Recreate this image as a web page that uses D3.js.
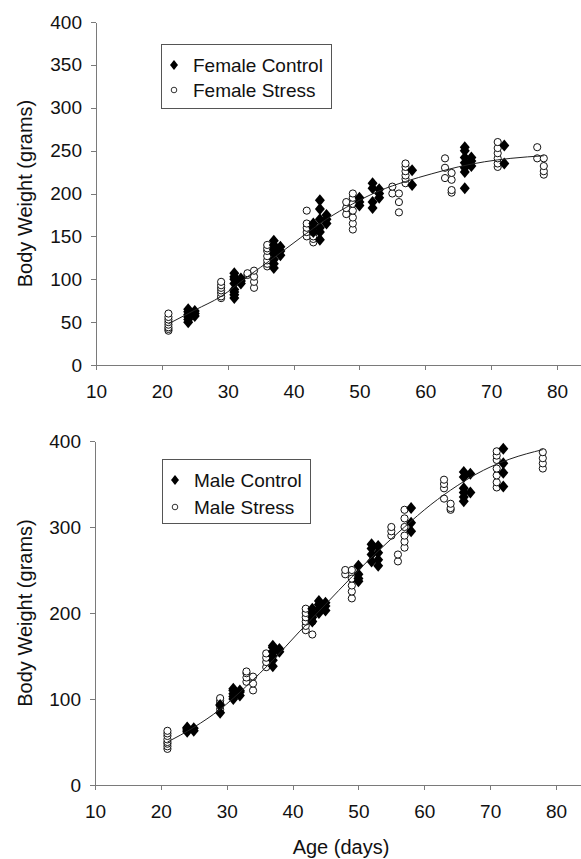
<!DOCTYPE html>
<html>
<head>
<meta charset="utf-8">
<script src="https://cdn.jsdelivr.net/npm/d3@7"></script>
<style>
    body { margin: 0; background: #fff; }
    svg { display: block; font-family: "Liberation Sans", Arial, sans-serif; }
    .axis path, .axis line { stroke: #7a7a7a; stroke-width: 1; shape-rendering: crispEdges; }
    .axis text { font-size: 19px; fill: #111; }
    .axis_label { font-size: 20px; fill: #111; }
    .legend_text { font-size: 19px; fill: #111; }
</style>
</head>
<body>
<div id="chart"></div>
<script>
// ---------------------------------------------------------------------------- //
//                                     Data                                     //
// ---------------------------------------------------------------------------- //
// [age (days), body weight (grams)]
var femaleControl = [
    [24,50],[24,53],[24,56],[24,59],[24,62],[24,65],[25,57],[25,60],[25,63],
    [31,78],[31,82],[31,85],[31,88],[31,95],[31,100],[31,103],[31,107],[32,95],[32,98],[32,101],
    [37,113],[37,118],[37,123],[37,130],[37,135],[37,140],[37,145],[38,128],[38,133],[38,138],
    [43,155],[43,160],[43,165],[44,146],[44,155],[44,160],[44,170],[44,182],[44,192],[45,165],[45,170],[45,175],
    [50,186],[50,190],[50,195],
    [52,183],[52,190],[52,206],[52,212],[53,195],[53,200],[53,205],
    [58,210],[58,227],
    [66,206],[66,225],[66,230],[66,236],[66,242],[66,250],[66,254],[67,232],[67,238],[67,242],
    [72,235],[72,256]
];
var femaleStress = [
    [21,40],[21,42],[21,44],[21,47],[21,50],[21,53],[21,56],[21,60],
    [29,78],[29,80],[29,84],[29,87],[29,90],[29,93],[29,97],
    [33,105],[33,107],[34,90],[34,97],[34,103],[34,110],
    [36,115],[36,118],[36,122],[36,127],[36,133],[36,136],[36,140],
    [42,150],[42,155],[42,160],[42,165],[42,180],[43,143],[43,147],[43,150],[43,155],
    [48,176],[48,183],[48,190],[49,158],[49,165],[49,172],[49,180],[49,188],[49,195],[49,200],
    [55,200],[55,208],[56,178],[56,190],[56,200],
    [57,212],[57,217],[57,221],[57,226],[57,231],[57,235],
    [63,218],[63,230],[63,241],[64,201],[64,204],[64,216],[64,224],
    [71,231],[71,235],[71,241],[71,247],[71,253],[71,260],
    [77,241],[77,254],[78,222],[78,226],[78,232],[78,241]
];
var maleControl = [
    [24,62],[24,64],[24,66],[24,67],[25,63],[25,66],
    [29,84],[29,93],
    [31,100],[31,103],[31,106],[31,110],[31,112],[32,104],[32,108],[32,110],
    [37,138],[37,145],[37,150],[37,155],[37,160],[37,162],[38,155],[38,158],
    [43,190],[43,195],[43,200],[43,205],[44,200],[44,205],[44,210],[44,214],[45,203],[45,208],[45,212],
    [50,237],[50,240],[50,245],[50,255],
    [52,260],[52,268],[52,275],[52,280],[53,255],[53,262],[53,270],[53,278],
    [58,295],[58,305],[58,322],
    [66,330],[66,335],[66,340],[66,345],[66,358],[66,364],[67,340],[67,362],
    [72,347],[72,363],[72,374],[72,391]
];
var maleStress = [
    [21,42],[21,45],[21,48],[21,50],[21,53],[21,57],[21,60],[21,63],
    [29,88],[29,92],[29,95],[29,98],[29,101],
    [33,120],[33,125],[33,130],[33,132],[34,110],[34,118],[34,126],
    [36,137],[36,143],[36,148],[36,153],
    [42,180],[42,185],[42,190],[42,195],[42,200],[42,205],[43,175],[43,190],[43,200],
    [48,245],[48,250],[49,217],[49,225],[49,232],[49,240],[49,250],
    [55,290],[55,295],[55,300],[56,260],[56,268],
    [57,276],[57,283],[57,290],[57,300],[57,310],[57,320],
    [63,333],[63,345],[63,350],[63,355],[64,320],[64,322],[64,327],
    [71,346],[71,352],[71,360],[71,368],[71,378],[71,383],[71,388],
    [78,368],[78,374],[78,380],[78,387]
];

// fitted growth curves
var femaleFit = [[21,48],[25,64],[29,80],[33,103],[37,125],[41,148],[45,170],[49,188],[53,203],[57,214],[61,223],[65,231],[69,237],[73,241],[78,244]];
var maleFit   = [[21,50],[25,67],[29,88],[33,115],[37,145],[41,178],[45,210],[49,242],[53,272],[57,300],[61,326],[65,348],[69,366],[73,379],[78,390]];

var xTicks = [10,20,30,40,50,60,70,80];
var yTicksTop = [0,50,100,150,200,250,300,350,400];
var yTicksBottom = [0,100,200,300,400];

// ---------------------------------------------------------------------------- //
//                                    Layout                                    //
// ---------------------------------------------------------------------------- //
var W = 581, H = 859;
var X_DOMAIN = [10, 83.8];
var Y_DOMAIN = [0, 400];

var panels = [
    { x0: 96, x1: 582, yTop: 22,  yBot: 365, yTicks: yTicksTop,
      control: femaleControl, stress: femaleStress, fit: femaleFit,
      legend: { x: 161, y: 44, w: 170, h: 64, rows: [65, 90], names: ["Female Control", "Female Stress"] } },
    { x0: 95, x1: 581, yTop: 441, yBot: 785, yTicks: yTicksBottom,
      control: maleControl, stress: maleStress, fit: maleFit,
      legend: { x: 162, y: 459, w: 148, h: 64, rows: [480, 507], names: ["Male Control", "Male Stress"] } }
];

var diamond = "M0,-6L5,0L0,6L-5,0Z";
var diamondSmall = "M0,-5L4,0L0,5L-4,0Z";

var svg = d3.select("#chart").append("svg")
    .attr("width", W)
    .attr("height", H);

// ---------------------------------------------------------------------------- //
//                                    Panels                                    //
// ---------------------------------------------------------------------------- //
panels.forEach(function(p){

    // Scales
    //_______________
    var x = d3.scaleLinear().domain(X_DOMAIN).range([p.x0, p.x1]);
    var y = d3.scaleLinear().domain(Y_DOMAIN).range([p.yBot, p.yTop]);

    // X Axis
    //_______________
    svg.append("g")
        .attr("class", "axis")
        .attr("transform", "translate(0," + p.yBot + ")")
        .call(d3.axisBottom(x).tickValues(xTicks).tickSize(5).tickSizeOuter(0).tickPadding(15));

    // Y Axis
    //_______________
    svg.append("g")
        .attr("class", "axis")
        .attr("transform", "translate(" + p.x0 + ",0)")
        .call(d3.axisLeft(y).tickValues(p.yTicks).tickSize(5).tickSizeOuter(0).tickPadding(9));

    // Y Axis Label
    svg.append("text")
        .attr("class", "axis_label")
        .attr("transform", "rotate(-90)")
        .attr("x", -(p.yTop + p.yBot) / 2)
        .attr("y", 32)
        .style("text-anchor", "middle")
        .text("Body Weight (grams)");

    // Stress (open circles)
    //_______________
    svg.append("g")
        .selectAll("circle")
        .data(p.stress)
        .join("circle")
        .attr("cx", function(d){ return x(d[0]); })
        .attr("cy", function(d){ return y(d[1]); })
        .attr("r", 3.6)
        .attr("fill", "#fff")
        .attr("stroke", "#111")
        .attr("stroke-width", 1);

    // Control (filled diamonds)
    //_______________
    svg.append("g")
        .selectAll("path")
        .data(p.control)
        .join("path")
        .attr("d", diamond)
        .attr("transform", function(d){ return "translate(" + x(d[0]) + "," + y(d[1]) + ")"; })
        .attr("fill", "#000");

    // Fitted curve
    //_______________
    svg.append("path")
        .datum(p.fit)
        .attr("fill", "none")
        .attr("stroke", "#222")
        .attr("stroke-width", 1)
        .attr("d", d3.line()
            .x(function(d){ return x(d[0]); })
            .y(function(d){ return y(d[1]); })
            .curve(d3.curveMonotoneX));

    // Legend
    //_______________
    var L = p.legend;
    svg.append("rect")
        .attr("x", L.x + 0.5).attr("y", L.y + 0.5)
        .attr("width", L.w).attr("height", L.h)
        .attr("fill", "#fff")
        .attr("stroke", "#555")
        .attr("stroke-width", 1);

    svg.append("path")
        .attr("d", diamondSmall)
        .attr("transform", "translate(" + (L.x + 13) + "," + L.rows[0] + ")")
        .attr("fill", "#000");
    svg.append("circle")
        .attr("cx", L.x + 13).attr("cy", L.rows[1])
        .attr("r", 2.8)
        .attr("fill", "#fff").attr("stroke", "#333");

    L.names.forEach(function(n, i){
        svg.append("text")
            .attr("class", "legend_text")
            .attr("x", L.x + 32)
            .attr("y", L.rows[i])
            .attr("dy", "0.35em")
            .text(n);
    });
});

// X Axis Label
svg.append("text")
    .attr("class", "axis_label")
    .attr("x", 341)
    .attr("y", 854)
    .style("text-anchor", "middle")
    .text("Age (days)");
</script>
</body>
</html>
